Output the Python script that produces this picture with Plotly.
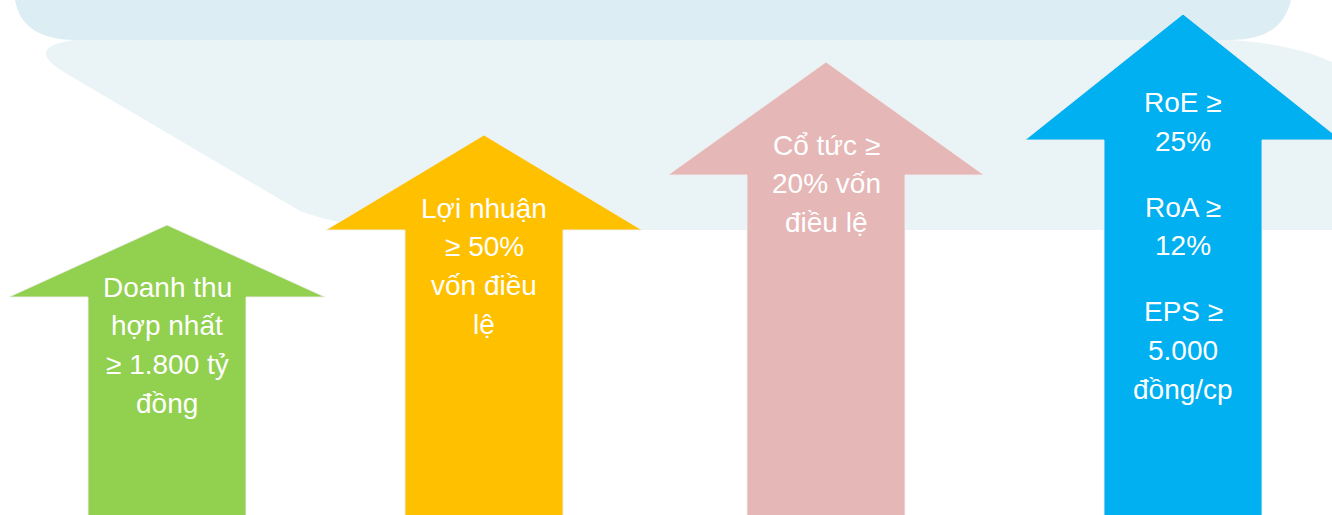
import plotly.graph_objects as go

W, H = 1332, 515

# ---- data ----
categories = ["Doanh thu", "Lợi nhuận", "Cổ tức", "Chỉ số tài chính"]
label_lines = [
    [["Doanh thu", "hợp nhất", "≥ 1.800 tỷ", "đồng"]],
    [["Lợi nhuận", "≥ 50%", "vốn điều", "lệ"]],
    [["Cổ tức ≥", "20% vốn", "điều lệ"]],
    [["RoE ≥", "25%"], ["RoA ≥", "12%"], ["EPS ≥", "5.000", "đồng/cp"]],
]
arrow_tip_level = [290, 380, 453, 501]     # arrow tip height
arrow_head_level = [218, 285, 340, 375]    # arrow head base height
arrow_colors = ["#92D050", "#FFC000", "#E5B7B7", "#00B0F0"]

# ---- layout geometry (pixels) ----
centers = [167, 484, 826, 1183]
head_half = 158
shaft_half = 79
first_line_px = [287, 208, 145, 102.5]
line_step = 38.7
para_gap = 27.3


def py(v):
    return H - v


def path(cmds):
    out = []
    for c in cmds:
        if isinstance(c, str):
            out.append(c)
        else:
            out.append(f"{c[0]},{py(c[1])}")
    return " ".join(out)


fig = go.Figure()

shapes = [
    # dark top band
    dict(type="path", xref="x", yref="y", layer="below", line=dict(width=0),
         fillcolor="#DCEEF4",
         path=path(["M", (12, -30), "L", (1296, -30), "L", (1291, 0),
                    "Q", (1282, 40), (1232, 40), "L", (76, 40),
                    "Q", (22, 40), (15, 0), "Z"])),
    # lighter band
    dict(type="path", xref="x", yref="y", layer="below", line=dict(width=0),
         fillcolor="#EAF4F7",
         path=path(["M", (73, 40), "L", (1230, 40), "Q", (1300, 44), (1340, 66),
                    "L", (1340, 230), "L", (430, 230), "Q", (350, 230), (300, 211),
                    "L", (67, 74), "Q", (22, 48), (73, 40), "Z"])),
]

for i, cx in enumerate(centers):
    tip = arrow_tip_level[i]
    hb = arrow_head_level[i]
    xs = [cx, cx - head_half, cx - shaft_half, cx - shaft_half,
          cx + shaft_half, cx + shaft_half, cx + head_half, cx]
    ys = [tip, hb, hb, -5, -5, hb, hb, tip]
    fig.add_trace(go.Scatter(
        x=xs, y=ys, mode="lines", fill="toself",
        fillcolor=arrow_colors[i],
        line=dict(color="rgba(240,240,240,0.9)", width=1),
        hoverinfo="skip", name=categories[i],
    ))

annotations = []
for i, cx in enumerate(centers):
    ypx = first_line_px[i]
    for p, para in enumerate(label_lines[i]):
        if p > 0:
            ypx += para_gap
        for line in para:
            annotations.append(dict(
                x=cx, y=py(ypx), xref="x", yref="y", text=line,
                showarrow=False, xanchor="center", yanchor="middle",
                font=dict(family="Liberation Sans, Arial, sans-serif",
                          size=28, color="white"),
            ))
            ypx += line_step

fig.update_layout(
    width=W, height=H,
    margin=dict(l=0, r=0, t=0, b=0),
    paper_bgcolor="white", plot_bgcolor="white",
    showlegend=False,
    xaxis=dict(range=[0, W], visible=False, fixedrange=True),
    yaxis=dict(range=[0, H], visible=False, fixedrange=True),
    shapes=shapes, annotations=annotations,
)

fig.write_html(
    "out.html",
    config={"displayModeBar": False},
    post_script="document.body.style.margin='0';document.body.style.overflow='hidden';",
)
